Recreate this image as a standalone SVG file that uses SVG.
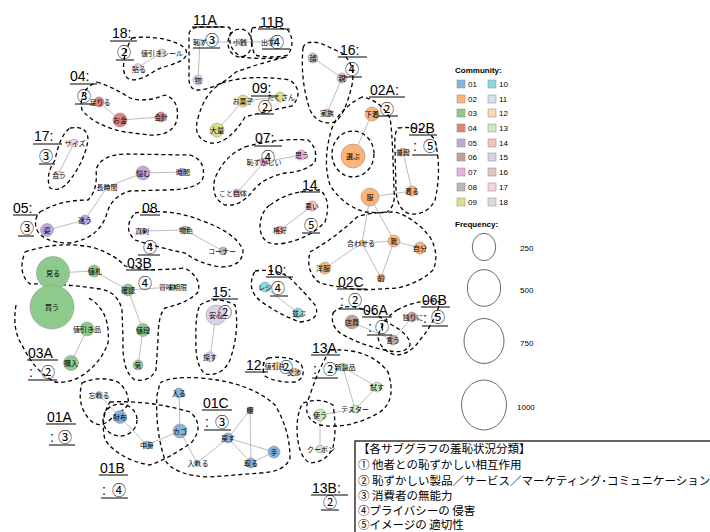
<svg xmlns="http://www.w3.org/2000/svg" width="710" height="532" viewBox="0 0 710 532">
<style>
.bg{fill:#fff}
.e{stroke:#ababab;stroke-width:0.8;fill:none}
.n{stroke:#8a8a8a;stroke-width:0.5}
.t{font-family:"Noto Sans CJK JP",sans-serif;font-size:7px;text-anchor:middle;fill:#000}
.h{fill:none;stroke:#000;stroke-width:1.3;stroke-dasharray:4 3}
.g{font-family:"Liberation Sans",Arial,sans-serif;font-size:14px;fill:#000}
.c{font-family:"Noto Sans CJK JP",sans-serif;font-size:14px;fill:#000;text-anchor:middle}
.u{stroke:#000;stroke-width:1}
.lg{font-family:"Liberation Sans",Arial,sans-serif;font-size:8px;fill:#000}
.box{font-family:"Noto Sans CJK JP",sans-serif;font-size:11.5px;fill:#000}
.c01{fill:#86b4dc}.c02{fill:#fdb577}.c03{fill:#8dcb8d}.c04{fill:#e58080}.c05{fill:#c2a7dc}.c06{fill:#c0a19b}
.c07{fill:#eeb0dc}.c08{fill:#b9b9b9}.c09{fill:#dede8a}.c10{fill:#8ad8e2}.c11{fill:#d3e0f2}.c12{fill:#fdd7b0}
.c13{fill:#c7edbf}.c14{fill:#f8c1c0}.c15{fill:#ddd1e8}.c16{fill:#dcc6c2}.c17{fill:#f8d3e4}.c18{fill:#dcdcdc}
</style>
<rect class="bg" x="0" y="0" width="710" height="532"/>

<g id="connectors">
<line class="e" x1="162" y1="53" x2="138" y2="67"/>
<line class="e" x1="200" y1="42" x2="240" y2="42"/>
<line class="e" x1="240" y1="42" x2="272" y2="42"/>
<line class="e" x1="200" y1="42" x2="198" y2="80"/>
<line class="e" x1="313" y1="58" x2="342" y2="78"/>
<line class="e" x1="342" y1="78" x2="327" y2="113"/>
<line class="e" x1="243" y1="101" x2="280" y2="97"/>
<line class="e" x1="243" y1="101" x2="217" y2="130"/>
<line class="e" x1="264" y1="162" x2="301" y2="155"/>
<line class="e" x1="264" y1="162" x2="237" y2="193"/>
<line class="e" x1="99" y1="102" x2="120" y2="120"/>
<line class="e" x1="120" y1="120" x2="161" y2="117"/>
<line class="e" x1="74" y1="143" x2="58" y2="175"/>
<line class="e" x1="143" y1="173" x2="182" y2="172"/>
<line class="e" x1="143" y1="173" x2="107" y2="187"/>
<line class="e" x1="107" y1="187" x2="85" y2="220"/>
<line class="e" x1="85" y1="220" x2="47" y2="230"/>
<line class="e" x1="312" y1="206" x2="280" y2="230"/>
<line class="e" x1="143" y1="231" x2="185" y2="230"/>
<line class="e" x1="185" y1="230" x2="223" y2="251"/>
<line class="e" x1="53" y1="273" x2="94" y2="271"/>
<line class="e" x1="94" y1="271" x2="128" y2="290"/>
<line class="e" x1="128" y1="290" x2="172" y2="287"/>
<line class="e" x1="128" y1="290" x2="143" y2="330"/>
<line class="e" x1="143" y1="330" x2="138" y2="365"/>
<line class="e" x1="87" y1="329" x2="71" y2="363"/>
<line class="e" x1="216" y1="315" x2="210" y2="357"/>
<line class="e" x1="265" y1="287" x2="298" y2="313"/>
<line class="e" x1="277" y1="366" x2="294" y2="372"/>
<line class="e" x1="372" y1="114" x2="353" y2="156"/>
<line class="e" x1="403" y1="152" x2="412" y2="191"/>
<line class="e" x1="370" y1="197" x2="412" y2="191"/>
<line class="e" x1="370" y1="197" x2="362" y2="243"/>
<line class="e" x1="370" y1="197" x2="394" y2="241"/>
<line class="e" x1="362" y1="243" x2="394" y2="241"/>
<line class="e" x1="362" y1="243" x2="325" y2="268"/>
<line class="e" x1="362" y1="243" x2="381" y2="278"/>
<line class="e" x1="394" y1="241" x2="381" y2="278"/>
<line class="e" x1="394" y1="241" x2="420" y2="248"/>
<line class="e" x1="352" y1="322" x2="393" y2="340"/>
<line class="e" x1="393" y1="340" x2="412" y2="317"/>
<line class="e" x1="343" y1="367" x2="377" y2="387"/>
<line class="e" x1="343" y1="367" x2="355" y2="409"/>
<line class="e" x1="377" y1="387" x2="355" y2="409"/>
<line class="e" x1="355" y1="409" x2="320" y2="415"/>
<line class="e" x1="320" y1="415" x2="320" y2="449"/>
<line class="e" x1="99" y1="395" x2="120" y2="417"/>
<line class="e" x1="120" y1="417" x2="147" y2="445"/>
<line class="e" x1="147" y1="445" x2="180" y2="431"/>
<line class="e" x1="179" y1="393" x2="180" y2="431"/>
<line class="e" x1="180" y1="431" x2="197" y2="463"/>
<line class="e" x1="197" y1="463" x2="228" y2="438"/>
<line class="e" x1="228" y1="438" x2="250" y2="410"/>
<line class="e" x1="228" y1="438" x2="274" y2="452"/>
<line class="e" x1="228" y1="438" x2="251" y2="463"/>
<line class="e" x1="250" y1="410" x2="251" y2="463"/>
<line class="e" x1="251" y1="463" x2="274" y2="452"/>
</g>

<g id="hulls">
<path class="h" d="M132,38 C150,35 180,40 186,50 C190,62 170,64 156,70 C142,80 127,85 124,72 C122,60 127,46 132,38 Z"/>
<path class="h" d="M189,34 Q190,27 200,27 L228,27 Q232,28 230,35 Q228,50 242,57 Q262,60 287,57 Q260,63 236,72 Q216,90 196,90 Q188,88 189,75 Z"/>
<ellipse class="h" cx="240" cy="43" rx="12" ry="14"/>
<path class="h" d="M252,28 Q270,25 288,30 Q296,42 288,55 Q270,59 255,55 Q249,42 252,28 Z"/>
<path class="h" d="M303,48 Q305,40 320,43 L342,53 Q356,65 352,85 Q345,115 335,122 Q318,126 310,110 Q300,80 303,48 Z"/>
<path class="h" d="M222,83 Q250,74 290,80 Q305,92 292,106 Q262,112 245,117 Q228,145 210,143 Q192,138 198,118 Q205,92 222,83 Z"/>
<path class="h" d="M245,147 Q275,138 308,140 Q318,148 315,162 Q305,172 285,173 Q262,178 252,192 Q240,207 225,205 Q210,198 215,178 Q225,155 245,147 Z"/>
<path class="h" d="M270,205 Q290,190 320,190 Q332,200 325,222 Q310,238 285,243 Q262,248 260,228 Q260,212 270,205 Z"/>
<path class="h" d="M97,82 Q115,88 130,98 Q145,103 165,95 Q180,100 177,120 Q172,136 150,135 L125,132 Q95,126 82,110 Q78,90 97,82 Z"/>
<path class="h" d="M70,128 Q88,125 88,140 Q85,160 70,180 Q60,193 50,188 Q45,175 55,160 Q60,135 70,128 Z"/>
<path class="h" d="M40,212 Q60,200 88,200 Q98,190 96,170 Q100,155 125,154 L190,155 Q206,160 203,178 Q198,190 165,190 L130,191 Q112,196 107,213 Q100,238 70,243 Q42,243 36,228 Q34,218 40,212 Z"/>
<path class="h" d="M135,213 Q170,208 200,220 Q235,232 243,250 Q243,267 220,267 Q200,264 185,253 Q160,248 135,240 Q122,228 135,213 Z"/>
<path class="h" d="M25,252 Q60,240 95,248 Q115,255 125,266 Q145,272 185,268 Q202,278 198,292 Q190,302 165,308 Q158,315 158,340 L156,370 Q150,382 135,380 Q122,372 123,340 L122,310 Q118,292 100,289 Q60,283 30,284 Q17,273 25,252 Z"/>
<path class="h" d="M16,305 Q12,330 22,345 Q35,372 55,382 Q72,384 87,372 Q102,360 108,343 Q110,320 100,308 Q94,300 88,298"/>
<path class="h" d="M200,305 Q215,295 235,305 Q240,330 230,360 Q222,377 205,374 Q195,365 196,340 Q195,315 200,305 Z"/>
<path class="h" d="M255,271 Q275,268 290,278 Q305,293 315,305 Q322,320 300,322 Q280,315 262,302 Q245,290 255,271 Z"/>
<path class="h" d="M268,358 Q290,355 301,364 Q307,377 296,382 Q276,383 265,376 Q260,364 268,358 Z"/>
<path class="h" d="M362,97 Q340,108 332,128 Q322,160 330,185 Q342,205 365,212 L385,213 Q396,208 394,190 L393,160 Q392,130 390,118 Q380,100 362,97 Z"/>
<ellipse class="h" cx="353" cy="154" rx="21" ry="23"/>
<path class="h" d="M398,128 Q425,125 435,140 Q442,170 435,200 Q428,215 410,214 Q397,210 396,190 L395,150 Q394,132 398,128 Z"/>
<path class="h" d="M310,252 Q335,238 357,217 Q370,212 395,212 Q415,218 430,237 Q440,255 433,270 Q420,283 397,288 L363,290 Q340,288 320,283 Q305,272 310,252 Z"/>
<path class="h" d="M333,313 Q340,305 355,307 Q375,312 392,325 Q410,335 410,345 Q405,355 385,350 Q360,345 340,333 Q330,325 333,313 Z"/>
<path class="h" d="M397,310 Q420,298 440,302 Q435,322 420,340 Q410,355 395,355 Q380,350 378,337 Q382,320 397,310 Z"/>
<path class="h" d="M330,350 Q370,348 388,372 Q397,400 380,412 Q350,430 320,425 Q300,418 310,395 Q318,370 330,350 Z"/>
<path class="h" d="M303,403 Q320,397 333,405 Q337,430 333,447 Q327,462 310,463 Q298,457 297,430 Q297,412 303,403 Z"/>
<path class="h" d="M82,383 Q100,375 118,382 Q130,392 128,405 Q122,412 112,418 Q100,430 90,420 Q76,405 82,383 Z"/>
<ellipse class="h" cx="120" cy="420" rx="17" ry="16"/>
<path class="h" d="M110,402 Q150,400 190,412 Q205,425 192,442 Q170,458 150,465 Q120,460 105,440 Q100,418 110,402 Z"/>
<path class="h" d="M160,383 Q170,376 200,378 Q250,382 275,405 Q290,430 290,458 Q285,472 260,473 L210,477 Q175,476 165,460 Q155,430 157,395 Z"/>
</g>

<g id="n-18"><circle class="n c18" cx="162" cy="53" r="4"/><text class="t" x="162" y="56">値引きシール</text></g>
<g id="n-haru"><circle class="n c18" cx="138" cy="67" r="3.5"/><text class="t" x="139" y="72">貼る</text></g>
<g id="n-hazu"><circle class="n c11" cx="200" cy="42" r="3"/><text class="t" x="200" y="45">恥ず</text></g>
<g id="n-mono"><circle class="n c11" cx="198" cy="80" r="5"/><text class="t" x="198" y="83">物</text></g>
<g id="n-kozeni"><circle class="n c11" cx="240" cy="42" r="3"/><text class="t" x="240" y="45">小銭</text></g>
<g id="n-dasu"><circle class="n c11" cx="272" cy="42" r="4"/><text class="t" x="268" y="45">出す</text></g>
<g id="n-kao"><circle class="n c16" cx="313" cy="58" r="5"/><text class="t" x="313" y="61">顔</text></g>
<g id="n-oya"><circle class="n c16" cx="342" cy="78" r="5"/><text class="t" x="342" y="81">親</text></g>
<g id="n-kazoku"><circle class="n c16" cx="327" cy="113" r="4"/><text class="t" x="327" y="116">家族</text></g>
<g id="n-okashi"><circle class="n c09" cx="243" cy="101" r="6"/><text class="t" x="243" y="104">お菓子</text></g>
<g id="n-takusan"><circle class="n c09" cx="280" cy="97" r="5"/><text class="t" x="281" y="100">たくさん</text></g>
<g id="n-tairyo"><circle class="n c09" cx="217" cy="130" r="7"/><text class="t" x="217" y="133">大量</text></g>
<g id="n-hazukashii"><circle class="n c07" cx="264" cy="162" r="4"/><text class="t" x="264" y="165">恥ずかしい</text></g>
<g id="n-omou"><circle class="n c07" cx="301" cy="155" r="5"/><text class="t" x="302" y="158">思う</text></g>
<g id="n-kotojitai"><circle class="n c07" cx="237" cy="193" r="4"/><text class="t" x="233" y="196">こと自体</text></g>
<g id="n-tariru"><circle class="n c04" cx="99" cy="102" r="5"/><text class="t" x="100" y="105">足りる</text></g>
<g id="n-okane"><circle class="n c04" cx="120" cy="120" r="7"/><text class="t" x="120" y="123">お金</text></g>
<g id="n-kaikei"><circle class="n c04" cx="161" cy="117" r="5"/><text class="t" x="161" y="120">会計</text></g>
<g id="n-size"><circle class="n c17" cx="74" cy="143" r="4"/><text class="t" x="75" y="146">サイズ</text></g>
<g id="n-au"><circle class="n c17" cx="58" cy="175" r="4"/><text class="t" x="59" y="178">合う</text></g>
<g id="n-nayamu"><circle class="n c05" cx="143" cy="173" r="7"/><text class="t" x="143" y="176">悩む</text></g>
<g id="n-jikan"><circle class="n c05" cx="182" cy="172" r="4"/><text class="t" x="183" y="175">時間</text></g>
<g id="n-chojikan"><circle class="n c05" cx="107" cy="187" r="2.5"/><text class="t" x="107" y="190">長時間</text></g>
<g id="n-mayou"><circle class="n c05" cx="85" cy="220" r="5"/><text class="t" x="85" y="223">迷う</text></g>
<g id="n-sugata"><circle class="n c05" cx="47" cy="230" r="6.5"/><text class="t" x="47" y="233">姿</text></g>
<g id="n-warui"><circle class="n c14" cx="312" cy="206" r="5"/><text class="t" x="312" y="209">悪い</text></g>
<g id="n-kakko"><circle class="n c14" cx="280" cy="230" r="4"/><text class="t" x="280" y="233">格好</text></g>
<g id="n-shinken"><circle class="n c08" cx="143" cy="231" r="3"/><text class="t" x="142" y="234">真剣</text></g>
<g id="n-busshoku"><circle class="n c08" cx="185" cy="230" r="4"/><text class="t" x="186" y="233">物色</text></g>
<g id="n-corner"><circle class="n c08" cx="223" cy="251" r="4"/><text class="t" x="222" y="254">コーナー</text></g>
<g id="n-miru"><circle class="n c03" cx="53" cy="273" r="16.5"/><text class="t" x="53" y="276">見る</text></g>
<g id="n-kau"><circle class="n c03" cx="52" cy="307" r="22"/><text class="t" x="52" y="310">買う</text></g>
<g id="n-nefuda"><circle class="n c03" cx="94" cy="271" r="6"/><text class="t" x="95" y="274">値札</text></g>
<g id="n-kakunin"><circle class="n c03" cx="128" cy="290" r="6"/><text class="t" x="128" y="293">確認</text></g>
<g id="n-shomi"><circle class="n c03" cx="172" cy="287" r="3"/><text class="t" x="173" y="290">賞味期限</text></g>
<g id="n-nedan"><circle class="n c03" cx="143" cy="330" r="6.5"/><text class="t" x="143" y="333">値段</text></g>
<g id="n-ki"><circle class="n c03" cx="138" cy="365" r="5"/><text class="t" x="138" y="368">気</text></g>
<g id="n-nebikihin"><circle class="n c03" cx="87" cy="329" r="7"/><text class="t" x="87" y="332">値引き品</text></g>
<g id="n-konyu"><circle class="n c03" cx="71" cy="363" r="7.5"/><text class="t" x="71" y="366">購入</text></g>
<g id="n-anshin"><circle class="n c15" cx="216" cy="315" r="10"/><text class="t" x="216" y="318">安心</text></g>
<g id="n-sagasu"><circle class="n c15" cx="210" cy="357" r="5"/><text class="t" x="210" y="360">探す</text></g>
<g id="n-reji"><circle class="n c10" cx="265" cy="287" r="5"/><text class="t" x="265" y="290">レジ</text></g>
<g id="n-narabu"><circle class="n c10" cx="298" cy="313" r="5"/><text class="t" x="299" y="316">並ぶ</text></g>
<g id="n-nebiki"><circle class="n c12" cx="277" cy="366" r="4"/><text class="t" x="275" y="369">値引き</text></g>
<g id="n-kosho"><circle class="n c12" cx="294" cy="372" r="4"/><text class="t" x="294" y="375">交渉</text></g>
<g id="n-shitagi"><circle class="n c02" cx="372" cy="114" r="7"/><text class="t" x="372" y="117">下着</text></g>
<g id="n-erabu"><circle class="n c02" cx="353" cy="156" r="12"/><text class="t" x="353" y="159">選ぶ</text></g>
<g id="n-fudan"><circle class="n c02" cx="403" cy="152" r="4"/><text class="t" x="403" y="155">普段</text></g>
<g id="n-kiru"><circle class="n c02" cx="412" cy="191" r="5"/><text class="t" x="412" y="194">着る</text></g>
<g id="n-fuku"><circle class="n c02" cx="370" cy="197" r="9"/><text class="t" x="370" y="200">服</text></g>
<g id="n-awaseru"><circle class="n c02" cx="362" cy="243" r="3"/><text class="t" x="361" y="246">合わせる</text></g>
<g id="n-kutsu"><circle class="n c02" cx="394" cy="241" r="6"/><text class="t" x="394" y="244">靴</text></g>
<g id="n-jibun"><circle class="n c02" cx="420" cy="248" r="6"/><text class="t" x="420" y="251">自分</text></g>
<g id="n-yofuku"><circle class="n c02" cx="325" cy="268" r="6"/><text class="t" x="323" y="271">洋服</text></g>
<g id="n-mae"><circle class="n c02" cx="381" cy="278" r="4"/><text class="t" x="381" y="281">前</text></g>
<g id="n-tenin"><circle class="n c06" cx="352" cy="322" r="7"/><text class="t" x="352" y="325">店員</text></g>
<g id="n-iu"><circle class="n c06" cx="393" cy="340" r="5"/><text class="t" x="393" y="343">言う</text></g>
<g id="n-hitori"><circle class="n c06" cx="412" cy="317" r="5"/><text class="t" x="413" y="320">独りに</text></g>
<g id="n-seihin"><circle class="n c13" cx="343" cy="367" r="4"/><text class="t" x="345" y="370">新製品</text></g>
<g id="n-tamesu"><circle class="n c13" cx="377" cy="387" r="5"/><text class="t" x="377" y="390">試す</text></g>
<g id="n-tester"><circle class="n c13" cx="355" cy="409" r="4"/><text class="t" x="355" y="412">テスター</text></g>
<g id="n-tsukau"><circle class="n c13" cx="320" cy="415" r="6"/><text class="t" x="320" y="418">使う</text></g>
<g id="n-coupon"><circle class="n c13" cx="320" cy="449" r="4"/><text class="t" x="321" y="452">クーポン</text></g>
<g id="n-wasureru"><circle class="n c01" cx="99" cy="395" r="3.5"/><text class="t" x="99" y="398">忘れる</text></g>
<g id="n-saifu"><circle class="n c01" cx="120" cy="417" r="6.5"/><text class="t" x="120" y="420">財布</text></g>
<g id="n-nakami"><circle class="n c01" cx="147" cy="445" r="4"/><text class="t" x="147" y="448">中身</text></g>
<g id="n-kago"><circle class="n c01" cx="180" cy="431" r="7"/><text class="t" x="180" y="434">カゴ</text></g>
<g id="n-hairu"><circle class="n c01" cx="179" cy="393" r="5"/><text class="t" x="179" y="396">入る</text></g>
<g id="n-ireru"><circle class="n c01" cx="197" cy="463" r="3"/><text class="t" x="198" y="466">入れる</text></g>
<g id="n-modosu"><circle class="n c01" cx="228" cy="438" r="5"/><text class="t" x="228" y="441">戻す</text></g>
<g id="n-tana"><circle class="n c01" cx="250" cy="410" r="3"/><text class="t" x="250" y="413">棚</text></g>
<g id="n-te"><circle class="n c01" cx="274" cy="452" r="6"/><text class="t" x="274" y="455">手</text></g>
<g id="n-toru"><circle class="n c01" cx="251" cy="463" r="5"/><text class="t" x="251" y="466">取る</text></g>

<g id="labels">
<text class="g" x="112" y="38">18:</text><line class="u" x1="110" y1="41" x2="137" y2="41"/>
<text class="c" x="124" y="57">②</text><line class="u" x1="116" y1="60" x2="134" y2="60"/>
<text class="g" x="70" y="81">04:</text><line class="u" x1="70" y1="84" x2="97" y2="84"/>
<text class="c" x="84" y="101">③</text><line class="u" x1="75" y1="104" x2="95" y2="104"/>
<text class="g" x="34" y="141">17:</text><line class="u" x1="33" y1="144" x2="62" y2="144"/>
<text class="c" x="46" y="161">③</text><line class="u" x1="39" y1="164" x2="55" y2="164"/>
<text class="g" x="13" y="213">05:</text><line class="u" x1="13" y1="215" x2="38" y2="215"/>
<text class="c" x="27" y="233">③</text><line class="u" x1="18" y1="236" x2="34" y2="236"/>
<text class="g" x="193" y="25">11A</text><line class="u" x1="192" y1="27" x2="222" y2="27"/>
<text class="c" x="212" y="45">③</text><line class="u" x1="193" y1="48" x2="220" y2="48"/>
<text class="g" x="260" y="27">11B</text><line class="u" x1="258" y1="29" x2="290" y2="29"/>
<text class="c" x="277" y="47">④</text><line class="u" x1="262" y1="49" x2="290" y2="49"/>
<text class="g" x="340" y="55">16:</text><line class="u" x1="338" y1="57" x2="367" y2="57"/>
<text class="c" x="352" y="74">④</text><line class="u" x1="344" y1="77" x2="362" y2="77"/>
<text class="g" x="252" y="93">09:</text><line class="u" x1="251" y1="96" x2="278" y2="96"/>
<text class="c" x="265" y="112">②</text><line class="u" x1="257" y1="114" x2="274" y2="114"/>
<text class="g" x="255" y="143">07:</text><line class="u" x1="254" y1="146" x2="282" y2="146"/>
<text class="c" x="268" y="162">④</text>
<text class="g" x="302" y="190">14</text><line class="u" x1="300" y1="192" x2="320" y2="192"/>
<text class="c" x="311" y="230">⑤</text><line class="u" x1="302" y1="233" x2="320" y2="233"/>
<text class="g" x="370" y="95">02A:</text><line class="u" x1="369" y1="97" x2="405" y2="97"/>
<text class="c" x="387" y="114">②</text><line class="u" x1="378" y1="116" x2="398" y2="116"/>
<text class="g" x="410" y="133">02B</text><line class="u" x1="409" y1="135" x2="437" y2="135"/>
<text class="g" x="413" y="151">:</text><text class="c" x="430" y="151">⑤</text><line class="u" x1="412" y1="155" x2="438" y2="155"/>
<text class="g" x="142" y="213">08</text><line class="u" x1="140" y1="215" x2="160" y2="215"/>
<text class="c" x="150" y="252">④</text><line class="u" x1="138" y1="255" x2="160" y2="255"/>
<text class="g" x="127" y="268">03B</text><line class="u" x1="126" y1="270" x2="155" y2="270"/>
<text class="c" x="145" y="288">④</text>
<text class="g" x="212" y="297">15:</text><line class="u" x1="211" y1="299" x2="238" y2="299"/>
<text class="c" x="225" y="317">②</text>
<text class="g" x="267" y="275">10:</text><line class="u" x1="266" y1="277" x2="293" y2="277"/>
<text class="c" x="278" y="293">④</text><line class="u" x1="270" y1="296" x2="288" y2="296"/>
<text class="g" x="338" y="287">02C</text><line class="u" x1="337" y1="289" x2="367" y2="289"/>
<text class="g" x="340" y="306">:</text><text class="c" x="355" y="305">②</text><line class="u" x1="339" y1="309" x2="365" y2="309"/>
<text class="g" x="363" y="315">06A</text><line class="u" x1="362" y1="317" x2="392" y2="317"/>
<text class="g" x="368" y="332">:</text><text class="c" x="382" y="332">①</text><line class="u" x1="367" y1="335" x2="392" y2="335"/>
<text class="g" x="422" y="305">06B</text><line class="u" x1="421" y1="307" x2="450" y2="307"/>
<text class="g" x="423" y="323">:</text><text class="c" x="438" y="322">⑤</text><line class="u" x1="422" y1="326" x2="448" y2="326"/>
<text class="g" x="246" y="370">12:</text><line class="u" x1="245" y1="372" x2="268" y2="372"/>
<text class="c" x="286" y="372">②</text>
<text class="g" x="312" y="353">13A</text><line class="u" x1="311" y1="355" x2="340" y2="355"/>
<text class="g" x="313" y="374">:</text><text class="c" x="330" y="374">②</text><line class="u" x1="312" y1="378" x2="338" y2="378"/>
<text class="g" x="312" y="493">13B:</text><line class="u" x1="311" y1="495" x2="348" y2="495"/>
<text class="c" x="330" y="507">②</text><line class="u" x1="321" y1="510" x2="339" y2="510"/>
<text class="g" x="28" y="358">03A</text><line class="u" x1="27" y1="360" x2="58" y2="360"/>
<text class="g" x="29" y="377">:</text><text class="c" x="48" y="377">②</text><line class="u" x1="28" y1="380" x2="57" y2="380"/>
<text class="g" x="47" y="422">01A</text><line class="u" x1="46" y1="424" x2="76" y2="424"/>
<text class="g" x="50" y="442">:</text><text class="c" x="65" y="442">③</text><line class="u" x1="49" y1="445" x2="75" y2="445"/>
<text class="g" x="100" y="473">01B</text><line class="u" x1="99" y1="475" x2="128" y2="475"/>
<text class="g" x="102" y="495">:</text><text class="c" x="119" y="495">④</text><line class="u" x1="101" y1="498" x2="128" y2="498"/>
<text class="g" x="203" y="408">01C</text><line class="u" x1="202" y1="410" x2="232" y2="410"/>
<text class="g" x="205" y="427">:</text><text class="c" x="222" y="427">③</text><line class="u" x1="204" y1="430" x2="231" y2="430"/>
</g>

<g id="legend">
<text class="lg" x="455" y="73" font-weight="bold">Community:</text>
<g stroke="#888" stroke-width="0.5">
<rect class="c01" x="457" y="80" width="8" height="8"/><rect class="c10" x="488" y="80" width="8" height="8"/>
<rect class="c02" x="457" y="95" width="8" height="8"/><rect class="c11" x="488" y="95" width="8" height="8"/>
<rect class="c03" x="457" y="109" width="8" height="8"/><rect class="c12" x="488" y="109" width="8" height="8"/>
<rect class="c04" x="457" y="124" width="8" height="8"/><rect class="c13" x="488" y="124" width="8" height="8"/>
<rect class="c05" x="457" y="139" width="8" height="8"/><rect class="c14" x="488" y="139" width="8" height="8"/>
<rect class="c06" x="457" y="153" width="8" height="8"/><rect class="c15" x="488" y="153" width="8" height="8"/>
<rect class="c07" x="457" y="168" width="8" height="8"/><rect class="c16" x="488" y="168" width="8" height="8"/>
<rect class="c08" x="457" y="183" width="8" height="8"/><rect class="c17" x="488" y="183" width="8" height="8"/>
<rect class="c09" x="457" y="198" width="8" height="8"/><rect class="c18" x="488" y="198" width="8" height="8"/>
</g>
<text class="lg" x="468" y="87">01</text><text class="lg" x="499" y="87">10</text>
<text class="lg" x="468" y="102">02</text><text class="lg" x="499" y="102">11</text>
<text class="lg" x="468" y="116">03</text><text class="lg" x="499" y="116">12</text>
<text class="lg" x="468" y="131">04</text><text class="lg" x="499" y="131">13</text>
<text class="lg" x="468" y="146">05</text><text class="lg" x="499" y="146">14</text>
<text class="lg" x="468" y="160">06</text><text class="lg" x="499" y="160">15</text>
<text class="lg" x="468" y="175">07</text><text class="lg" x="499" y="175">16</text>
<text class="lg" x="468" y="190">08</text><text class="lg" x="499" y="190">17</text>
<text class="lg" x="468" y="205">09</text><text class="lg" x="499" y="205">18</text>
<text class="lg" x="455" y="227" font-weight="bold">Frequency:</text>
<g fill="none" stroke="#444" stroke-width="0.8">
<ellipse cx="484" cy="247" rx="11.7" ry="13.7"/>
<ellipse cx="484" cy="288" rx="16.7" ry="18.3"/>
<ellipse cx="484" cy="341" rx="20" ry="22.5"/>
<ellipse cx="484" cy="405" rx="22.5" ry="25"/>
</g>
<text class="lg" x="520" y="251">250</text>
<text class="lg" x="520" y="293">500</text>
<text class="lg" x="520" y="346">750</text>
<text class="lg" x="517" y="410">1000</text>
</g>

<g id="classification-box">
<rect x="355" y="441" width="365" height="100" fill="#fff" stroke="#000" stroke-width="1.2"/>
<text class="box" x="358" y="453">【各サブグラフの羞恥状況分類】</text>
<text class="box" x="358" y="469">① 他者との恥ずかしい相互作用</text>
<text class="box" x="358" y="485">② 恥ずかしい製品／サービス／マーケティング･コミュニケーション</text>
<text class="box" x="358" y="500">③ 消費者の無能力</text>
<text class="box" x="358" y="515">④プライバシーの 侵害</text>
<text class="box" x="358" y="529">⑤イメージの 適切性</text>
</g>
</svg>
